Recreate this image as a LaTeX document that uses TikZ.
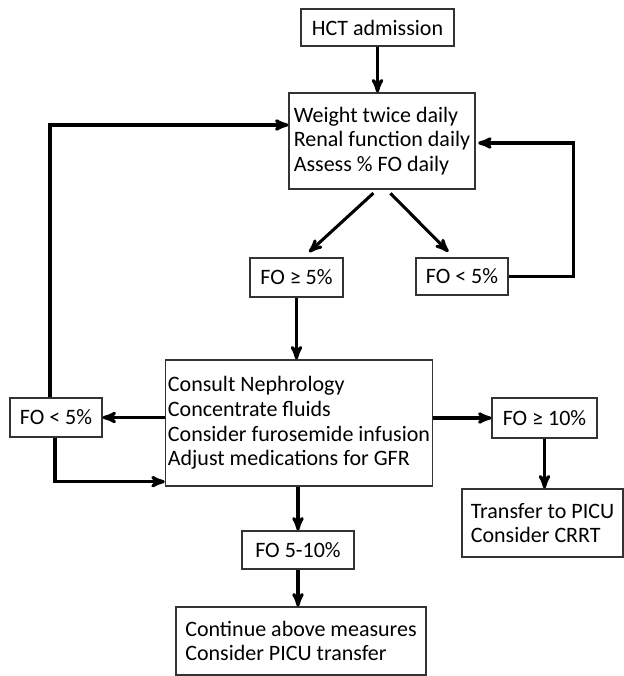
\documentclass[tikz,border=0pt]{standalone}
\usepackage{fontspec}
\setmainfont{Carlito}
\usepackage{tikz}
\usetikzlibrary{arrows,positioning}

\begin{document}
\begin{tikzpicture}[->,>=stealth',x=0.75pt,y=-0.75pt,
	every path/.style={line width=2.3pt},
	box/.style={draw=black!80, line width=0.8pt, fill=white, align=left, inner sep=2pt,
		font=\fontsize{16.5}{18.5}\selectfont}]
\useasboundingbox (0,0) rectangle (624,676);

\node[box, minimum width=114.75pt, minimum height=27.75pt] (hct) at (377.5,27.5) {HCT admission};
\node[box, minimum width=139.5pt, minimum height=72pt] (mon) at (382,141) {
	Weight twice daily\\
	Renal function daily\\
	Assess \% FO daily};
\node[box, minimum width=69.75pt, minimum height=29.25pt] (hifive) at (296.5,277.5) {FO ≥ 5\%};
\node[box, minimum width=69pt, minimum height=27.75pt] (lofiveR) at (462,276.5) {FO < 5\%};
\node[box, minimum width=199.5pt, minimum height=94.5pt] (act) at (299,423) {
	Consult Nephrology\\
	Concentrate fluids\\
	Consider furosemide infusion\\
	Adjust medications for GFR};
\node[box, minimum width=69pt, minimum height=29.25pt] (lofiveL) at (56,417.5) {FO < 5\%};
\node[box, minimum width=78.75pt, minimum height=30pt] (hiten) at (544.5,418) {FO ≥ 10\%};
\node[box, minimum width=120.75pt, minimum height=51pt] (picu) at (542.5,523) {
	Transfer to PICU\\
	Consider CRRT};
\node[box, minimum width=84pt, minimum height=28.5pt] (mid) at (298,550) {FO 5-10\%};
\node[box, minimum width=187.5pt, minimum height=51pt] (cont) at (301,641) {
	Continue above measures\\
	Consider PICU transfer};

% main line
\draw (hct.south) -- (hct.south |- mon.north);
\draw[shorten <=4pt, shorten >=6pt] ([xshift=-3.5pt]mon.south) -- ([xshift=5pt]hifive.north);
\draw[shorten <=4pt, shorten >=6pt] ([xshift=3.5pt]mon.south) -- ([xshift=-6pt]lofiveR.north);
\draw (hifive.south) -- (hifive.south |- act.north);
\draw (act.south -| mid) -- (mid.north);
\draw (mid.south) -- (mid.south |- cont.north);

% loops back
\draw[shorten >=2pt] (lofiveR.east) -- ++(65,0) |- ([yshift=-1.5pt]mon.east);
\draw (act.west |- lofiveL) -- (lofiveL.east);
\draw ([xshift=-4.5pt]lofiveL.north) |- ([yshift=12pt]mon.west);
\draw ([xshift=-0.75pt]lofiveL.south) |- ([yshift=-44pt]act.west);

% escalation
\draw (act.east |- hiten) -- (hiten.west);
\draw (hiten.south) -- (hiten.south |- picu.north);
\end{tikzpicture}
\end{document}
